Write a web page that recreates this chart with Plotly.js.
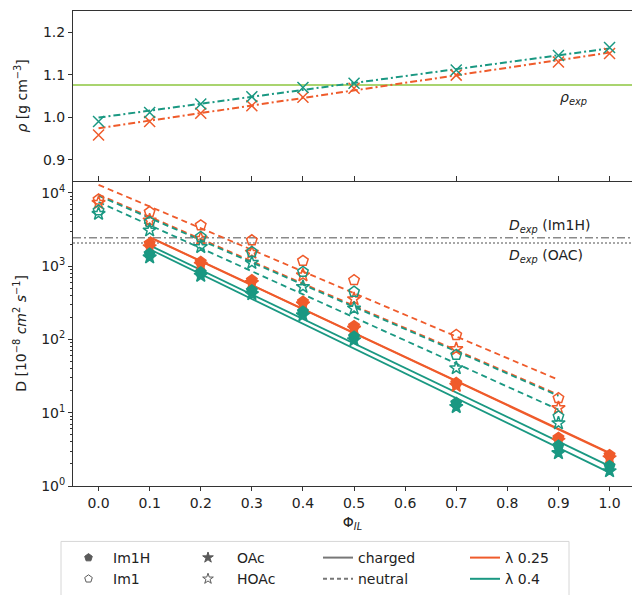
<!DOCTYPE html>
<html>
<head>
<meta charset="utf-8">
<script src="https://cdn.plot.ly/plotly-3.0.1.min.js"></script>
<style>
html,body{margin:0;padding:0;overflow:hidden;background:#fff;}
#chart{width:632px;height:595px;}
</style>
</head>
<body>
<div id="chart"></div>
<script>
// ---------- top panel: density ----------
const phiTop = [0, 0.1, 0.2, 0.3, 0.4, 0.5, 0.7, 0.9, 1.0];
const rhoL40 = [0.990, 1.011, 1.031, 1.048, 1.070, 1.080, 1.111, 1.145, 1.164];
const rhoL25 = [0.958, 0.990, 1.009, 1.027, 1.047, 1.068, 1.099, 1.130, 1.150];
const rhoFitPhi = [0, 1.0];
const rhoFitL40 = [0.999, 1.162];
const rhoFitL25 = [0.974, 1.152];
const rhoExp = 1.076;

// ---------- bottom panel: diffusion ----------
const phiNeutral = [0, 0.1, 0.2, 0.3, 0.4, 0.5, 0.7, 0.9];
const phiCharged = [0.1, 0.2, 0.3, 0.4, 0.5, 0.7, 0.9, 1.0];

const dIm1L25  = [8110, 5470, 3600, 2250, 1180, 643, 115, 15.8];
const dHOAcL25 = [7310, 4210, 2370, 1530, 752, 355, 74, 11.6];
const dIm1L40  = [5750, 4000, 2500, 1560, 836, 447, 61.5, 8.9];
const dHOAcL40 = [5190, 3080, 1830, 1110, 522, 265, 40.6, 7.2];

const dIm1HL25 = [2030, 1140, 643, 327, 152, 25.4, 4.54, 2.64];
const dOAcL25  = [1820, 1050, 590, 302, 141, 23.4, 4.17, 2.40];
const dIm1HL40 = [1480, 818, 466, 239, 109, 13.6, 3.55, 1.87];
const dOAcL40  = [1320, 741, 417, 214, 98, 12.0, 2.82, 1.60];

const neutralFitPhi = [0, 0.9];
const chargedFitPhi = [0.1, 1.0];
const fitIm1L25  = [12850, 28.1];
const fitHOAcL25 = [9480, 17.6];
const fitIm1L40  = [9120, 17.0];
const fitHOAcL40 = [7480, 11.0];
const fitIm1HL25 = [2500, 2.84];
const fitOAcL25  = [2470, 2.79];
const fitIm1HL40 = [1920, 1.87];
const fitOAcL40  = [1700, 1.52];

const expPhi = [-0.05, 1.05];
const dExpIm1H = 2440;
const dExpOAc = 2070;

const xTicks = [0, 0.1, 0.2, 0.3, 0.4, 0.5, 0.6, 0.7, 0.8, 0.9, 1.0];
const yTickVals = [1, 10, 100, 1000, 10000];
const yTickText = ['10<sup>0</sup>', '10<sup>1</sup>', '10<sup>2</sup>', '10<sup>3</sup>', '10<sup>4</sup>'];

const OR = '#EF5B2B';
const TE = '#1A9882';
const GR = '#8DC63F';
const GY = '#5a5a5a';
const FONT = 'DejaVu Sans, sans-serif';

const traces = [];
function line(x, y, color, dash, xa, ya, w) {
  traces.push({x: x, y: y, mode: 'lines', xaxis: xa, yaxis: ya, showlegend: false,
    hoverinfo: 'skip', line: {color: color, width: w || 2, dash: dash || 'solid'}});
}
function pts(x, y, color, symbol, size, xa, ya) {
  traces.push({x: x, y: y, mode: 'markers', xaxis: xa, yaxis: ya, showlegend: false,
    marker: {color: color, symbol: symbol, size: size, line: {color: color, width: 1.5}}});
}

// top panel
line(expPhi, [rhoExp, rhoExp], GR, 'solid', 'x2', 'y2', 1.5);
line(rhoFitPhi, rhoFitL25, OR, '7px,3px,2px,3px', 'x2', 'y2', 2);
line(rhoFitPhi, rhoFitL40, TE, '7px,3px,2px,3px', 'x2', 'y2', 2);
pts(phiTop, rhoL25, OR, 'x-thin-open', 11, 'x2', 'y2');
pts(phiTop, rhoL40, TE, 'x-thin-open', 11, 'x2', 'y2');

// bottom panel: experimental lines
line(expPhi, [dExpIm1H, dExpIm1H], '#8a8a8a', '8px,3px,2px,3px', 'x', 'y', 1.5);
line(expPhi, [dExpOAc, dExpOAc], '#8a8a8a', '2px,2px', 'x', 'y', 1.5);

// fits
line(neutralFitPhi, fitIm1L25, OR, '6px,4px', 'x', 'y', 1.8);
line(neutralFitPhi, fitHOAcL25, OR, '6px,4px', 'x', 'y', 1.8);
line(neutralFitPhi, fitIm1L40, TE, '6px,4px', 'x', 'y', 1.8);
line(neutralFitPhi, fitHOAcL40, TE, '6px,4px', 'x', 'y', 1.8);
line(chargedFitPhi, fitIm1HL25, OR, 'solid', 'x', 'y', 1.8);
line(chargedFitPhi, fitOAcL25, OR, 'solid', 'x', 'y', 1.8);
line(chargedFitPhi, fitIm1HL40, TE, 'solid', 'x', 'y', 1.8);
line(chargedFitPhi, fitOAcL40, TE, 'solid', 'x', 'y', 1.8);

// markers
pts(phiNeutral, dIm1L25, OR, 'pentagon-open', 11, 'x', 'y');
pts(phiNeutral, dHOAcL25, OR, 'star-open', 10, 'x', 'y');
pts(phiNeutral, dIm1L40, TE, 'pentagon-open', 11, 'x', 'y');
pts(phiNeutral, dHOAcL40, TE, 'star-open', 10, 'x', 'y');
pts(phiCharged, dIm1HL25, OR, 'pentagon', 11, 'x', 'y');
pts(phiCharged, dOAcL25, OR, 'star', 10, 'x', 'y');
pts(phiCharged, dIm1HL40, TE, 'pentagon', 11, 'x', 'y');
pts(phiCharged, dOAcL40, TE, 'star', 10, 'x', 'y');

// legend entries
function legMarker(name, symbol, lg) {
  traces.push({x: [null], y: [null], mode: 'markers', name: name, legend: lg, xaxis: 'x', yaxis: 'y',
    marker: {color: GY, symbol: symbol, size: 8, line: {color: GY, width: 1}}});
}
function legLine(name, color, dash, lg) {
  traces.push({x: [null], y: [null], mode: 'lines', name: name, legend: lg, xaxis: 'x', yaxis: 'y',
    line: {color: color, width: 2, dash: dash}});
}
legMarker('Im1H', 'pentagon', 'legend');
legMarker('Im1', 'pentagon-open', 'legend');
legMarker('OAc', 'star', 'legend2');
legMarker('HOAc', 'star-open', 'legend2');
legLine('charged', '#777', 'solid', 'legend3');
legLine('neutral', '#777', '4px,3px', 'legend3');
legLine('λ 0.25', OR, 'solid', 'legend4');
legLine('λ 0.4', TE, 'solid', 'legend4');

const axisCommon = {
  showline: true, linecolor: '#333', linewidth: 1, ticks: 'outside', ticklen: 4,
  tickcolor: '#333', tickfont: {family: FONT, size: 14, color: '#222'}, showgrid: false, zeroline: false
};
const plotW = 559, pxPerUnit = 511;
const xRange = [-0.05, -0.05 + plotW / pxPerUnit];
const legBase = {bgcolor: 'rgba(0,0,0,0)', borderwidth: 0, font: {family: FONT, size: 14, color: '#222'},
  orientation: 'v', yanchor: 'top', xanchor: 'left', tracegroupgap: 0, itemclick: false};
function px2x(p) { return (p - 73) / plotW; }
function py2y(p) { return (488.3 - p) / 477.3; }
const legY = py2y(545);

const layout = {
  width: 632, height: 595,
  margin: {l: 73, r: 0, t: 11, b: 106.7},
  paper_bgcolor: '#fff', plot_bgcolor: '#fff',
  font: {family: FONT, size: 14, color: '#222'},
  xaxis: Object.assign({}, axisCommon, {
    anchor: 'y', range: xRange, tickvals: xTicks, tickformat: '.1f',
    title: {text: 'Φ<sub><i>IL</i></sub>', font: {family: FONT, size: 14, color: '#222'}, standoff: 7}
  }),
  yaxis: Object.assign({}, axisCommon, {
    domain: [0, 0.6424], type: 'log', range: [0, 4.163],
    tickvals: yTickVals, ticktext: yTickText,
    minor: {ticks: 'outside', ticklen: 2, tickcolor: '#333', dtick: 'D1', showgrid: false},
    title: {text: 'D [10<sup>−8</sup> <i>cm</i><sup>2</sup> <i>s</i><sup>−1</sup>]', font: {family: FONT, size: 14, color: '#222'}, standoff: 11}
  }),
  xaxis2: Object.assign({}, axisCommon, {
    anchor: 'y2', range: xRange, tickvals: phiTop, showticklabels: false,
    ticks: 'inside', ticklen: 5, mirror: true
  }),
  yaxis2: Object.assign({}, axisCommon, {
    domain: [0.6424, 1], anchor: 'x2', range: [0.85, 1.25], tickvals: [0.9, 1.0, 1.1, 1.2], tickformat: '.1f',
    title: {text: '<i>ρ</i> [g cm<sup>−3</sup>]', font: {family: FONT, size: 14, color: '#222'}, standoff: 12}
  }),
  legend: Object.assign({}, legBase, {x: px2x(64), y: legY, itemwidth: 39}),
  legend2: Object.assign({}, legBase, {x: px2x(179), y: legY, itemwidth: 48}),
  legend3: Object.assign({}, legBase, {x: px2x(318), y: legY}),
  legend4: Object.assign({}, legBase, {x: px2x(465), y: legY}),
  shapes: [{type: 'rect', xref: 'paper', yref: 'paper', x0: px2x(61), x1: px2x(569), y0: py2y(544), y1: py2y(605),
    line: {color: '#d6d6d6', width: 1}, fillcolor: 'rgba(0,0,0,0)'}],
  annotations: [
    {xref: 'x2', yref: 'y2', x: 0.9, y: 1.045, xanchor: 'left', yanchor: 'middle', showarrow: false,
      text: '<i>ρ<sub>exp</sub></i>', font: {family: FONT, size: 14, color: '#222'}},
    {xref: 'x', yref: 'y', x: 0.8, y: Math.log10(3560), xanchor: 'left', yanchor: 'middle', showarrow: false,
      text: '<i>D<sub>exp</sub></i> (Im1H)', font: {family: FONT, size: 14, color: '#222'}},
    {xref: 'x', yref: 'y', x: 0.8, y: Math.log10(1390), xanchor: 'left', yanchor: 'middle', showarrow: false,
      text: '<i>D<sub>exp</sub></i> (OAC)', font: {family: FONT, size: 14, color: '#222'}}
  ]
};

Plotly.newPlot('chart', traces, layout, {staticPlot: true, displayModeBar: false});
</script>
</body>
</html>
